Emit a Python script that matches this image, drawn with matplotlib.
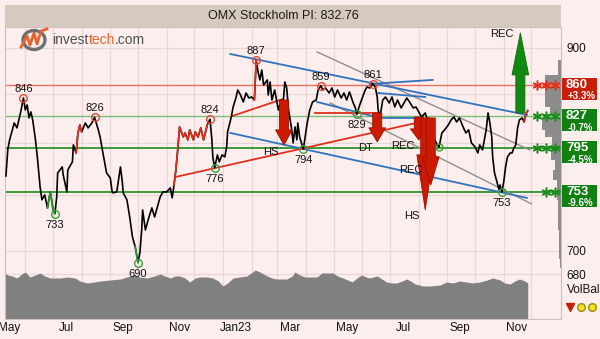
import numpy as np
import pandas as pd
import matplotlib
matplotlib.use("Agg")
import matplotlib.pyplot as plt
import matplotlib.dates as mdates
from matplotlib.patches import Rectangle, Ellipse
from matplotlib.lines import Line2D
from matplotlib.ticker import FixedLocator, NullLocator, FuncFormatter, NullFormatter
from matplotlib.transforms import IdentityTransform

plt.rcParams["font.family"] = ["Liberation Sans", "DejaVu Sans"]

# closing prices
price_dates = [
    "2022-05-11", "2022-05-13", "2022-05-15", "2022-05-18", "2022-05-20", "2022-05-23", "2022-05-25", "2022-05-27", "2022-05-30", "2022-06-01",
    "2022-06-03", "2022-06-05", "2022-06-07", "2022-06-09", "2022-06-12", "2022-06-14", "2022-06-17", "2022-06-19", "2022-06-22", "2022-06-25",
    "2022-06-28", "2022-06-30", "2022-07-01", "2022-07-03", "2022-07-05", "2022-07-06", "2022-07-11", "2022-07-12", "2022-07-16", "2022-07-17",
    "2022-07-22", "2022-07-23", "2022-07-26", "2022-07-28", "2022-07-30", "2022-08-01", "2022-08-05", "2022-08-08", "2022-08-12", "2022-08-15",
    "2022-08-19", "2022-08-21", "2022-08-24", "2022-08-28", "2022-09-01", "2022-09-03", "2022-09-04", "2022-09-08", "2022-09-12", "2022-09-14",
    "2022-09-15", "2022-09-19", "2022-09-22", "2022-09-25", "2022-09-28", "2022-10-01", "2022-10-03", "2022-10-05", "2022-10-06", "2022-10-09",
    "2022-10-12", "2022-10-16", "2022-10-19", "2022-10-22", "2022-10-25", "2022-10-28", "2022-11-01", "2022-11-05", "2022-11-07", "2022-11-09",
    "2022-11-11", "2022-11-13", "2022-11-15", "2022-11-19", "2022-11-21", "2022-11-24", "2022-11-26", "2022-11-30", "2022-12-02", "2022-12-05",
    "2022-12-08", "2022-12-11", "2022-12-15", "2022-12-18", "2022-12-20", "2022-12-21", "2022-12-23", "2022-12-26", "2022-12-28", "2022-12-31",
    "2023-01-03", "2023-01-05", "2023-01-06", "2023-01-10", "2023-01-12", "2023-01-15", "2023-01-17", "2023-01-20", "2023-01-23", "2023-01-26",
    "2023-01-29", "2023-02-01", "2023-02-04", "2023-02-06", "2023-02-08", "2023-02-10", "2023-02-12", "2023-02-14", "2023-02-18", "2023-02-19",
    "2023-02-21", "2023-02-23", "2023-02-26", "2023-03-02", "2023-03-05", "2023-03-07", "2023-03-09", "2023-03-11", "2023-03-13", "2023-03-16",
    "2023-03-18", "2023-03-20", "2023-03-22", "2023-03-23", "2023-03-25", "2023-03-29", "2023-03-31", "2023-04-02", "2023-04-05", "2023-04-08",
    "2023-04-12", "2023-04-14", "2023-04-17", "2023-04-19", "2023-04-22", "2023-04-26", "2023-04-29", "2023-05-02", "2023-05-05", "2023-05-09",
    "2023-05-12", "2023-05-15", "2023-05-18", "2023-05-22", "2023-05-24", "2023-05-26", "2023-05-28", "2023-05-31", "2023-06-04", "2023-06-06",
    "2023-06-09", "2023-06-12", "2023-06-15", "2023-06-17", "2023-06-18", "2023-06-20", "2023-06-23", "2023-06-26", "2023-06-30", "2023-07-03",
    "2023-07-06", "2023-07-09", "2023-07-13", "2023-07-16", "2023-07-19", "2023-07-22", "2023-07-26", "2023-07-29", "2023-08-01", "2023-08-04",
    "2023-08-08", "2023-08-11", "2023-08-14", "2023-08-17", "2023-08-21", "2023-08-23", "2023-08-26", "2023-08-29", "2023-09-02", "2023-09-05",
    "2023-09-08", "2023-09-11", "2023-09-14", "2023-09-18", "2023-09-21", "2023-09-24", "2023-09-27", "2023-10-01", "2023-10-04", "2023-10-06",
    "2023-10-09", "2023-10-13", "2023-10-15", "2023-10-17", "2023-10-19", "2023-10-20", "2023-10-22", "2023-10-25", "2023-10-27", "2023-10-28",
    "2023-10-30", "2023-11-01", "2023-11-03", "2023-11-05", "2023-11-08", "2023-11-10", "2023-11-12", "2023-11-14", "2023-11-16", "2023-11-18",
    "2023-11-21", "2023-11-23", "2023-11-25", "2023-11-27",
]
price_values = [
    768.1, 793.3, 803.2, 813.2, 820.2, 815.2, 823.3, 831.5, 846.0, 833.5,
    838.7, 825.3, 831.5, 823.3, 803.2, 786.4, 757.8, 745.7, 750.3, 738.3,
    753.1, 742.9, 736.5, 733.0, 748.4, 771.0, 776.8, 769.1, 753.1, 773.9,
    781.6, 798.2, 790.3, 810.1, 818.2, 811.1, 820.2, 815.2, 820.2, 826.0,
    813.2, 806.1, 790.3, 771.0, 766.2, 753.1, 752.2, 753.1, 776.8, 762.5,
    752.2, 745.7, 730.1, 712.2, 703.5, 690.0, 698.2, 718.4, 736.5, 718.4,
    727.4, 738.3, 730.1, 739.2, 748.4, 753.1, 753.1, 756.8, 747.5, 759.6,
    773.9, 793.3, 816.2, 806.1, 810.1, 803.2, 813.2, 803.2, 811.1, 806.1,
    815.2, 803.2, 818.2, 824.0, 803.2, 786.4, 776.0, 788.4, 781.6, 788.4,
    786.4, 796.2, 811.1, 826.3, 836.6, 846.0, 854.4, 849.1, 841.8, 851.2,
    846.0, 847.0, 843.9, 887.0, 873.7, 865.1, 875.8, 859.7, 865.1, 849.1,
    862.9, 843.9, 854.4, 833.5, 843.9, 838.7, 862.9, 856.5, 833.5, 816.2,
    800.2, 816.2, 803.2, 820.2, 806.1, 794.0, 806.1, 819.2, 833.5, 841.8,
    843.9, 854.4, 859.0, 854.4, 856.5, 851.2, 856.5, 847.0, 854.4, 846.0,
    851.2, 843.9, 852.3, 840.8, 836.6, 829.0, 835.6, 843.9, 854.4, 857.6,
    856.5, 861.0, 857.6, 847.0, 833.5, 826.3, 843.9, 847.0, 840.8, 847.0,
    836.6, 843.9, 835.6, 840.8, 846.0, 841.8, 835.6, 836.6, 831.5, 826.3,
    830.4, 821.2, 816.2, 806.1, 798.2, 796.2, 810.1, 813.2, 818.2, 823.3,
    826.3, 821.2, 825.3, 816.2, 810.1, 813.2, 800.2, 796.2, 790.3, 798.2,
    793.3, 813.2, 830.4, 820.2, 806.1, 786.4, 771.0, 761.5, 754.9, 759.6,
    753.0, 762.5, 776.8, 786.4, 790.3, 790.3, 795.2, 798.2, 815.2, 823.3,
    825.3, 821.2, 829.4, 832.76,
]

# pivot tops and bottoms
high_dates = ["2022-05-30", "2022-08-15", "2022-12-18", "2023-02-06", "2023-04-17", "2023-06-12"]
high_values = [846, 826, 824, 887, 859, 861]
low_dates = ["2022-07-03", "2022-10-01", "2022-12-23", "2023-03-29", "2023-05-26", "2023-10-30"]
low_values = [733, 690, 776, 794, 829, 753]
touch_dates = ["2023-08-23"]
touch_values = [796.2]

# resistance / support
sr_levels = [860, 827, 795, 753]
sr_stars = [3, 3, 3, 2]

# trend lines: start date, start value, end date, end value
blue_lines = [
    ("2023-01-09", 893.3, "2023-11-26", 828.4),
    ("2023-01-09", 810.1, "2023-11-26", 747.5),
    ("2023-06-09", 860.8, "2023-08-16", 865.1),
    ("2023-04-13", 841.8, "2023-06-20", 825.3),
    ("2023-06-18", 851.2, "2023-08-08", 847.0),
    ("2023-06-20", 825.3, "2023-08-02", 825.3),
]
gray_lines = [
    ("2023-04-13", 895.6, "2023-11-29", 793.3),
    ("2023-04-27", 840.8, "2023-12-01", 742.0),
]
red_lines = [
    ("2022-11-11", 767.2, "2023-08-08", 822.3),
    ("2023-01-11", 827.3, "2023-03-07", 844.9),
    ("2023-04-11", 830.4, "2023-06-18", 830.4),
]

# pattern signals
sell_dates = ["2023-03-08", "2023-06-17", "2023-08-01", "2023-08-08", "2023-08-14"]
sell_from = [843.9, 830.4, 826.3, 825.3, 825.3]
sell_to = [798.2, 801.2, 803.2, 736.5, 759.6]
sell_text = ["HS", "DT", "REC", "HS", "REC"]
buy_dates = ["2023-11-19"]
buy_from = [830.4]
buy_to = [916.9]
buy_text = ["REC"]

# volume balance
volbal_dates = [
    "2022-05-10", "2022-05-13", "2022-05-18", "2022-05-23", "2022-05-28", "2022-06-01", "2022-06-06", "2022-06-12", "2022-06-17", "2022-06-22",
    "2022-06-28", "2022-07-09", "2022-07-16", "2022-07-25", "2022-07-30", "2022-08-07", "2022-08-15", "2022-08-21", "2022-09-01", "2022-09-12",
    "2022-09-19", "2022-09-26", "2022-10-03", "2022-10-11", "2022-10-19", "2022-10-25", "2022-10-30", "2022-11-05", "2022-11-10", "2022-11-15",
    "2022-11-21", "2022-11-26", "2022-12-02", "2022-12-07", "2022-12-15", "2022-12-21", "2022-12-27", "2023-01-01", "2023-01-06", "2023-01-12",
    "2023-01-19", "2023-01-27", "2023-02-05", "2023-02-10", "2023-02-18", "2023-02-23", "2023-02-28", "2023-03-11", "2023-03-17", "2023-03-20",
    "2023-03-25", "2023-03-31", "2023-04-13", "2023-04-18", "2023-04-25", "2023-04-30", "2023-05-05", "2023-05-11", "2023-05-16", "2023-05-21",
    "2023-05-26", "2023-05-31", "2023-06-05", "2023-06-09", "2023-06-13", "2023-06-17", "2023-06-22", "2023-06-27", "2023-07-03", "2023-07-08",
    "2023-07-14", "2023-07-19", "2023-07-25", "2023-07-28", "2023-08-02", "2023-08-05", "2023-08-13", "2023-08-24", "2023-08-31", "2023-09-07",
    "2023-09-14", "2023-09-22", "2023-09-29", "2023-10-06", "2023-10-14", "2023-10-20", "2023-10-28", "2023-11-02", "2023-11-08", "2023-11-13",
    "2023-11-18", "2023-11-24", "2023-11-27",
]
volbal_values = [
    46, 44, 43, 41, 45, 47, 42, 44, 46, 43,
    41, 41, 42, 41, 38, 36, 37, 38, 39, 40,
    42, 44, 42, 41, 43, 45, 43, 41, 43, 43,
    41, 37, 41, 42, 42, 41, 38, 33, 36, 41,
    42, 43, 49, 47, 43, 41, 40, 40, 43, 47,
    44, 42, 42, 46, 46, 46, 43, 41, 39, 37,
    41, 44, 42, 41, 42, 43, 40, 37, 36, 36,
    38, 40, 37, 35, 34, 33, 33, 34, 37, 36,
    38, 37, 36, 37, 39, 41, 39, 36, 35, 38,
    40, 38, 36,
]

# traded volume per price band
profile_edges = [685, 693, 718, 746, 764, 774, 783, 798, 806, 813, 825, 837, 870, 887]
profile_volume = [1, 2, 3, 4, 8, 6, 10, 9, 16, 19, 11, 16, 3]


def dn(d):
    if isinstance(d, str):
        return mdates.date2num(pd.Timestamp(d).to_pydatetime())
    return mdates.date2num(pd.to_datetime(d).to_pydatetime())


W, H = 600, 339
bg = "#fdeeee"
gridc = "#e9d6d6"
red = "#e0301c"
blue = "#2f72bd"
green = "#1a8c1a"

fig = plt.figure(figsize=(W / 100, H / 100), dpi=100)
fig.patch.set_facecolor(bg)
ax = fig.add_axes([5 / W, 1 - 319 / H, 556 / W, 292 / H])
ax.set_facecolor(bg)
ax.set_yscale("log")
ax.set_xlim(dn("2022-05-10"), dn("2024-01-02"))
ax.set_ylim(643.4, 923.7)
ax.autoscale(False)

x = dn(price_dates)
p = np.array(price_values)

# grid every month, labels every second month
months = pd.date_range("2022-06-01", "2023-12-01", freq="MS")
mids = pd.date_range("2022-05-01", "2023-11-01", freq="2MS") + pd.Timedelta(days=14)
ax.set_xticks(dn(months))
ax.xaxis.set_major_formatter(NullFormatter())
ax.set_xticks(dn(mids), minor=True)
ax.set_xticklabels([("Jan%s" % m.strftime("%y")) if m.month == 1 else m.strftime("%b") for m in mids], minor=True)
ax.tick_params(axis="x", which="both", length=0, pad=2, labelsize=8.5, colors="#111111")
ax.yaxis.set_major_locator(FixedLocator([680, 700, 750, 800, 850, 900]))
ax.yaxis.set_minor_locator(NullLocator())
# 800 sits under the 795 box, so it is left blank
ax.yaxis.set_major_formatter(FuncFormatter(lambda v, pos: "" if v in (750, 800, 850) else "%d" % v))
ax.yaxis.tick_right()
ax.tick_params(axis="y", length=0, pad=4, labelsize=8.5, colors="#111111")
ax.grid(True, which="major", color=gridc, lw=0.9)
ax.set_axisbelow(True)
for s in ax.spines.values():
    s.set_color("#cdbdbd")
    s.set_linewidth(0.8)

# volume balance panel at the bottom
vb_top = 292
ax.fill_between(dn(volbal_dates), 0, np.array(volbal_values) / vb_top,
                transform=ax.get_xaxis_transform(), color="#808080", lw=0, zorder=1)

# price-volume profile on the right edge
tr_y = ax.get_yaxis_transform()
for lo, hi, v in zip(profile_edges[:-1], profile_edges[1:], profile_volume):
    w = v / 556
    ax.add_patch(Rectangle((1 - w, lo), w, hi - lo, transform=tr_y, color="#8c8c8c", lw=0, zorder=1.5))

# support / resistance lines with stars
sr_color = ["#e8705e", "#78bf78", green, green]
sr_lw = [1.0, 1.0, 1.2, 1.2]
star_color = [red, green, green, green]
star_x = [0.957, 0.973, 0.989]
for lvl, n, c, lw, sc in zip(sr_levels, sr_stars, sr_color, sr_lw, star_color):
    ax.axhline(lvl, color=c, lw=lw, zorder=2)
    ax.plot(star_x[3 - n:], [lvl] * n, transform=tr_y, ls="none", marker=(6, 2, 0),
            ms=7, mew=1.1, color=sc, zorder=4)

for d0, v0, d1, v1 in gray_lines:
    ax.plot([dn(d0), dn(d1)], [v0, v1], color="#8f8f8f", lw=1.0, zorder=3)
for d0, v0, d1, v1 in blue_lines:
    ax.plot([dn(d0), dn(d1)], [v0, v1], color=blue, lw=1.3, zorder=3)
for d0, v0, d1, v1 in red_lines:
    ax.plot([dn(d0), dn(d1)], [v0, v1], color=red, lw=1.3, zorder=3)

# price line, signal stretches coloured
ax.plot(x, p, color="black", lw=1.2, zorder=5)
for s, e, c in [("2022-07-26", "2022-08-01", red), ("2022-11-09", "2022-12-15", red),
                ("2023-02-04", "2023-02-06", red), ("2023-11-23", "2023-11-27", red),
                ("2022-06-25", "2022-07-03", "#2a9a2a"), ("2022-09-28", "2022-10-01", "#2a9a2a")]:
    m = (x >= dn(s)) & (x <= dn(e))
    ax.plot(x[m], p[m], color=c, lw=1.2, zorder=5.1)


def arrow(d, y0, y1, col, edge, head):
    style = "simple,head_length=%.1f,head_width=12,tail_width=6.5" % (head * 0.72)
    ax.annotate("", xy=(dn(d), y1), xytext=(dn(d), y0),
                arrowprops=dict(arrowstyle=style, fc=col, ec=edge, lw=0.6,
                                shrinkA=0, shrinkB=0, mutation_scale=1), zorder=6)


sell_head = [15, 14, 11, 55, 28]
sell_off = [(-9.5, -5), (-8.5, -4.5), (-11.5, -4.5), (-10, -4.5), (-14, 11)]
for d, a, b, t, hd, off in zip(sell_dates, sell_from, sell_to, sell_text, sell_head, sell_off):
    arrow(d, a, b, "#cc1a00", "#9a1000", hd)
    ax.annotate(t, xy=(dn(d), b), xytext=off, textcoords="offset points",
                ha="center", va="center", fontsize=8, color="#111111", zorder=7)
for d, a, b, t in zip(buy_dates, buy_from, buy_to, buy_text):
    arrow(d, a, b, "#128a12", "#0b6a0b", 42)
    ax.annotate(t, xy=(dn(d), b), xytext=(-13, -1), textcoords="offset points",
                ha="center", va="center", fontsize=8, color="#111111", zorder=7)

# pivot markers
ax.plot(dn(high_dates), high_values, ls="none", marker="o", ms=5.5, mfc="none", mec="#e04a3a", mew=1, zorder=6)
ax.plot(dn(low_dates), low_values, ls="none", marker="o", ms=5.5, mfc="none", mec="#3aa03a", mew=1, zorder=6)
ax.plot(dn(touch_dates), touch_values, ls="none", marker="o", ms=5, mfc="none", mec="#3aa03a", mew=1, zorder=6)
for d, v in zip(high_dates, high_values):
    ax.annotate("%d" % v, xy=(dn(d), v), xytext=(0, 6.5), textcoords="offset points",
                ha="center", va="center", fontsize=8, color="#111111", zorder=7)
for d, v in zip(low_dates, low_values):
    ax.annotate("%d" % v, xy=(dn(d), v), xytext=(0, -8), textcoords="offset points",
                ha="center", va="center", fontsize=8, color="#111111", zorder=7)

# level boxes to the right of the frame
last = price_values[-1]
for lvl in sr_levels:
    yd = ax.transData.transform((dn("2023-12-01"), lvl))[1]
    col = "#c81e0a" if lvl > last else "#108010"
    fig.add_artist(Rectangle((562, yd - 15), 35, 22, transform=IdentityTransform(),
                             facecolor=col, edgecolor="none", zorder=3))
    fig.text(566, yd, "%d" % lvl, transform=IdentityTransform(), ha="left", va="center",
             fontsize=9.5, fontweight="bold", color="white", zorder=4)
    fig.text(568, yd - 11.5, "%+.1f%%" % ((lvl / last - 1) * 100), transform=IdentityTransform(),
             ha="left", va="center", fontsize=7, fontweight="bold", color="white", zorder=4)

# header bar
fig.add_artist(Rectangle((5 / W, 1 - 27 / H), 556 / W, 22 / H, transform=fig.transFigure,
                         facecolor="#d6cabe", edgecolor="none"))
fig.text(283 / W, 1 - 16 / H, "OMX Stockholm PI: %.2f" % last, ha="center", va="center",
         fontsize=9, color="#1a1a1a")

# logo
fig.add_artist(Ellipse((34, H - 40), 22, 19, transform=IdentityTransform(), fill=False,
                       edgecolor="#6e6e6e", lw=2.4))
lx = [21, 27, 30, 34, 37, 41, 47]
ly = [47, 36, 45, 33, 44, 31, 29]
fig.add_artist(Line2D(lx, [H - v for v in ly], transform=IdentityTransform(), color="#e8622c", lw=2))
t1 = fig.text(52 / W, 1 - 47 / H, "invest", ha="left", va="bottom", fontsize=10, color="#505050")
t2 = ax.annotate("tech", xy=(1, 0), xycoords=t1, ha="left", va="bottom", fontsize=10, color="#e8622c")
ax.annotate(".com", xy=(1, 0), xycoords=t2, ha="left", va="bottom", fontsize=10, color="#505050")

# volbal legend
fig.text(567 / W, 1 - 290 / H, "VolBal", ha="left", va="center", fontsize=8.5, color="#111111")
fig.add_artist(Line2D([570], [H - 307], transform=IdentityTransform(), marker="v", ms=6,
                      color="#cc1a00", ls="none"))
fig.add_artist(Line2D([581, 592], [H - 307, H - 307], transform=IdentityTransform(), marker="o", ms=5.5,
                      mfc="#f2e21a", mec="#9a8a10", ls="none"))

fig.savefig("out.png", dpi=100, facecolor=bg)
